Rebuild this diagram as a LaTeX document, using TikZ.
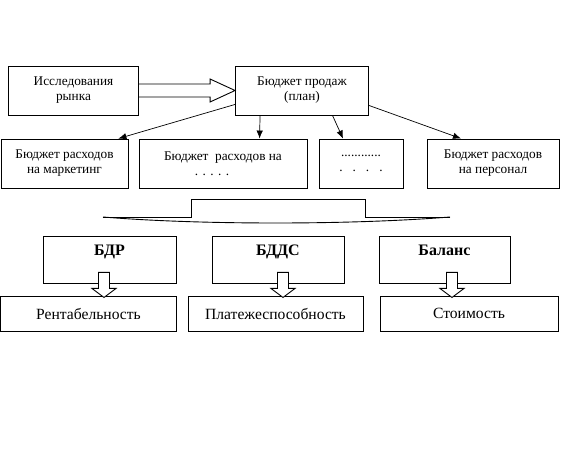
\documentclass[tikz,border=0pt]{standalone}
\usepackage{fontspec}
\setmainfont{Liberation Serif}
\usetikzlibrary{calc,arrows.meta}

\begin{document}
\begin{tikzpicture}[x=1pt,y=-1pt,
    box/.style={draw,line width=0.9pt,inner sep=0pt,align=center,font=\fontsize{13.3}{15}\selectfont},
    resbox/.style={box,minimum height=35,font=\fontsize{15.6}{18}\selectfont},
    budbox/.style={box,minimum height=47,font=\bfseries\fontsize{16}{18}\selectfont},
    arr/.style={line width=0.7pt,-{Latex[length=8pt,width=6.5pt]}},
    blockarr/.style={line width=0.9pt,fill=white}]
    \useasboundingbox (0,0) rectangle (565,462);
    % top row
    \node[box,minimum width=130,minimum height=49] (issl) at (73.5,90.5) {Исследования\\рынка};
    \node[box,minimum width=133,minimum height=49] (plan) at (302,90.5) {Бюджет продаж\\(план)};
    % budgets of costs
    \node[box,minimum width=127,minimum height=49] (mark) at (64.5,163.5) {Бюджет расходов\\на маркетинг};
    \node[box,minimum width=168,minimum height=49] (mid) at (223,163.5) {Бюджет\ \ расходов на\\\hspace*{-22pt}. . . . .};
    \node[box,minimum width=84,minimum height=49] (dots) at (361,163.5) {............\\.\ \ \ .\ \ \ .\ \ \ .};
    \node[box,minimum width=132,minimum height=49] (pers) at (493,163.5) {Бюджет расходов\\на персонал};
    % three budgets
    \node[budbox,minimum width=133] (bdr) at (109.5,259.5) {БДР\\~};
    \node[budbox,minimum width=132] (bdds) at (278,259.5) {БДДС\\~};
    \node[budbox,minimum width=131] (bal) at (444.5,259.5) {Баланс\\~};
    \node[resbox,minimum width=176] (rent) at (88.5,313.5) {Рентабельность};
    \node[resbox,minimum width=175] (plat) at (275.5,313.5) {Платежеспособность};
    \node[resbox,minimum width=178] (stoim) at (469,313.5) {Стоимость};

    \draw[line width=0.9pt] (issl.east) ++(0,-6.5) -- ($(plan.west)+(-25,-6.5)$) -- ($(plan.west)+(-25,-11.5)$) -- (plan.west)
        -- ($(plan.west)+(-25,11.5)$) -- ($(plan.west)+(-25,6.5)$) -- ($(issl.east)+(0,6.5)$);
    \draw[arr] ($(plan.south west)+(0,-11)$) -- ($(mark.north east)+(-10,0)$);
    \draw[arr] ($(plan.south west)+(25,0)$) -- ($(mid.north west)+(121,0)$);
    \draw[arr] ($(plan.south)+(30.5,0)$) -- ($(dots.north)+(-18,0)$);
    \draw[arr] ($(plan.south east)+(0,-10)$) -- ($(pers.north)+(-32,0)$);

    \draw[line width=0.9pt] (103,217) -- (191,217) -- (191,199) -- (365,199) -- (365,217) -- (450,217);
    \draw[line width=0.9pt] (103,217) .. controls (200,225) and (350,225) .. (450,217);

    \foreach \a/\b/\dx in {bdr/rent/-5.5,bdds/plat/5,bal/stoim/7.5}
      \draw[blockarr] ($(\a.south)+(\dx-5.5,-11)$) -- ($(\a.south)+(\dx-5.5,5)$) -- ($(\a.south)+(\dx-12,5)$)
        -- ($(\b.north)+(\dx,0)+(\a.south)-(\b.north)+(0,14)$) -- ($(\a.south)+(\dx+12,5)$) -- ($(\a.south)+(\dx+5.5,5)$)
        -- ($(\a.south)+(\dx+5.5,-11)$) -- cycle;
\end{tikzpicture}
\end{document}
